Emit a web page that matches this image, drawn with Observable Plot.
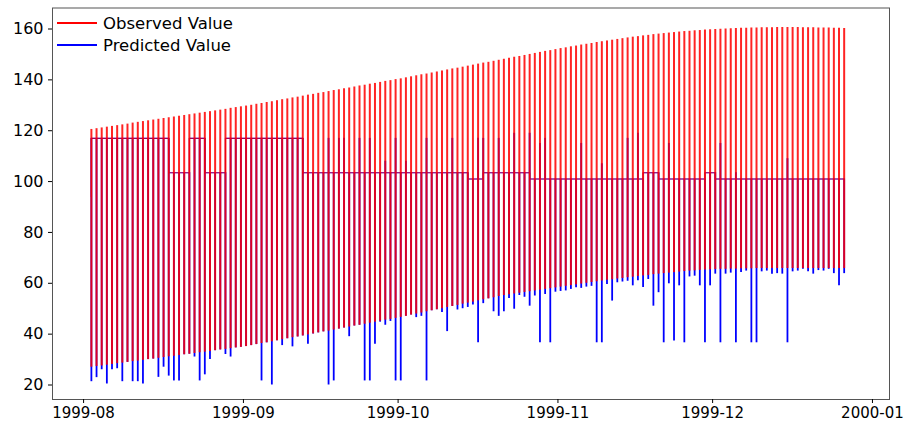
<!DOCTYPE html>
<html><head><meta charset="utf-8">
<script src="https://cdn.jsdelivr.net/npm/d3@7"></script>
<script src="https://cdn.jsdelivr.net/npm/@observablehq/plot@0.6"></script>
<style>
body{margin:0;background:#fff;}
#wrap{position:relative;width:904px;height:426px;font-family:"DejaVu Sans",sans-serif;}
.leg{position:absolute;left:57px;height:22px;display:flex;align-items:center;font-size:16.5px;color:#000;white-space:nowrap;}
.leg .sw{display:inline-block;width:40px;height:2px;margin-right:6px;}
</style></head><body>
<div id="wrap"></div>
<script>
// daily series, one spike per day
const startDay = "1999-08-02T03:00:00Z";
const dayCount = 147;

const observedHigh = [
120.5,120.8,121.1,121.4,121.7,122.0,122.3,122.6,123.0,123.3,123.6,123.9,124.2,124.5,124.8,125.1,125.4,125.7,126.0,126.3,126.6,126.9,127.2,127.5,127.8,128.1,128.4,128.8,129.1,129.4,129.7,
130.0,130.4,130.7,131.1,131.4,131.8,132.2,132.5,132.9,133.2,133.6,134.0,134.3,134.7,135.0,135.4,135.8,136.1,136.5,136.8,137.2,137.6,137.9,138.3,138.6,139.0,139.4,139.7,140.1,140.4,
140.8,141.2,141.6,142.0,142.3,142.7,143.1,143.5,143.9,144.3,144.6,145.0,145.4,145.8,146.2,146.6,146.9,147.3,147.7,148.1,148.5,148.9,149.2,149.6,150.0,150.4,150.8,151.2,151.5,151.9,152.3,
152.6,153.0,153.3,153.7,154.0,154.3,154.7,155.0,155.3,155.6,155.9,156.2,156.5,156.8,157.0,157.3,157.5,157.8,158.0,158.2,158.4,158.6,158.8,159.0,159.1,159.3,159.4,159.6,159.7,159.8,
159.9,160.0,160.1,160.2,160.3,160.3,160.4,160.4,160.5,160.5,160.5,160.6,160.6,160.6,160.6,160.6,160.5,160.5,160.5,160.4,160.4,160.4,160.3,160.3,160.2
];

const observedLow = [
27.0,27.3,27.5,27.8,28.1,28.4,28.6,28.9,29.2,29.4,29.7,30.0,30.2,30.5,30.8,31.1,31.3,31.6,31.9,32.1,32.4,32.7,32.9,33.2,33.5,33.8,34.0,34.3,34.6,34.8,35.1,
35.5,35.9,36.3,36.6,37.0,37.4,37.8,38.2,38.6,38.9,39.3,39.7,40.1,40.5,40.9,41.2,41.6,42.0,42.4,42.8,43.2,43.5,43.9,44.3,44.7,45.1,45.5,45.8,46.2,46.6,
47.0,47.5,47.9,48.3,48.8,49.2,49.6,50.0,50.5,50.9,51.3,51.8,52.2,52.6,53.1,53.5,53.9,54.3,54.8,55.2,55.5,55.8,56.1,56.4,56.7,57.0,57.3,57.6,57.9,58.2,58.5,
58.8,59.1,59.4,59.7,60.0,60.3,60.6,60.9,61.2,61.4,61.7,61.9,62.2,62.4,62.7,62.9,63.1,63.4,63.6,63.8,64.0,64.2,64.4,64.6,64.8,64.9,65.1,65.2,65.3,65.4,
65.5,65.5,65.6,65.6,65.7,65.7,65.7,65.8,65.8,65.8,65.8,65.8,65.8,65.8,65.8,65.8,65.8,65.8,65.8,65.8,65.8,65.8,65.8,65.8,65.8
];

const predictedBase = [
94,117,117,117,117,117,117,117,117,117,117,117,117,117,117,117,
103.5,103.5,103.5,103.5,117,117,117,103.5,103.5,103.5,103.5,
117,117,117,117,117,117,117,117,117,117,117,117,117,117,117,
103.5,103.5,103.5,103.5,103.5,103.5,103.5,103.5,103.5,103.5,103.5,103.5,103.5,103.5,103.5,103.5,
103.5,103.5,103.5,103.5,103.5,103.5,103.5,103.5,103.5,103.5,103.5,103.5,103.5,103.5,103.5,103.5,
101,101,101,
103.5,103.5,103.5,103.5,103.5,103.5,103.5,103.5,103.5,
101,101,101,101,101,101,101,101,101,101,101,101,101,101,101,101,101,101,101,101,101,101,
103.5,103.5,103.5,
101,101,101,101,101,101,101,101,101,
103.5,103.5,
101,101,101,101,101,101,101,101,101,101,101,101,101,101,101,101,101,101,101,101,101,101,101,101,101
];

const predictedHigh = [
117,117,117,117,117,117,117,117,117,117,117,117,117,117,117,117,
103.5,103.5,103.5,103.5,117,117,117,103.5,103.5,103.5,103.5,
117,117,117,117,117,117,117,117,117,117,117,117,117,117,117,
103.5,103.5,103.5,103.5,117,103.5,117,117,103.5,103.5,117,103.5,117,103.5,103.5,108,
103.5,117,103.5,108,103.5,103.5,103.5,117,103.5,103.5,103.5,103.5,117,103.5,103.5,103.5,
101,117,117,
103.5,103.5,117,103.5,103.5,119,103.5,103.5,119,
101,115,117,101,101,101,101,101,101,115,101,101,101,107,101,101,101,101,117,101,119,101,
103.5,103.5,103.5,
101,115,101,101,101,101,101,101,101,
103.5,103.5,
115,101,101,103.5,101,101,101,101,101,101,101,101,101,109,101,101,101,101,101,101,101,101,101,101,101
];

const predictedLow = [
21.3,22.9,26.0,20.4,26.0,26.4,21.3,28.9,21.3,21.3,20.4,30.0,30.2,23.0,27.0,23.5,21.6,21.6,31.9,32.1,31.0,21.6,24.0,30.0,33.5,33.8,32.0,31.0,34.6,34.8,35.1,
35.5,35.9,21.6,36.6,20.0,37.4,35.5,38.2,35.0,38.9,39.3,36.0,40.1,40.5,40.9,20.0,21.6,42.0,42.4,39.0,43.2,43.5,21.6,21.6,36.0,44.7,43.5,45.0,21.6,21.6,
47.0,47.5,46.5,47.0,21.6,49.2,49.6,48.5,41.0,50.9,49.5,50.0,50.5,51.5,36.6,52.0,53.9,48.8,47.0,48.8,54.0,49.8,55.2,54.5,51.0,55.0,36.6,55.6,36.6,56.5,56.8,
57.0,57.6,58.2,58.0,58.5,58.8,36.6,36.6,59.5,53.0,60.2,60.5,60.8,59.0,61.0,58.3,61.5,51.0,56.3,36.6,59.8,37.3,59.0,36.6,62.5,62.8,59.0,36.6,59.0,63.6,
36.6,63.6,64.0,36.6,64.2,64.8,36.6,36.6,64.5,64.8,63.6,63.8,63.6,36.6,64.5,64.8,65.5,64.5,63.6,65.0,64.8,65.5,63.8,59.0,63.8
];

// the observed series rests on the same plateau as the prediction between spikes
const observedBase = predictedBase.slice();

const yTicks = [20, 40, 60, 80, 100, 120, 140, 160];
const xTickLabels = ["1999-08", "1999-09", "1999-10", "1999-11", "1999-12", "2000-01"];

const start = new Date(startDay);
const dates = d3.range(dayCount).map(i => d3.utcDay.offset(start, i));

function spikeRows(high, low) {
  return dates.map((t, i) => ({t, lo: Math.min(low[i], high[i]), hi: Math.max(low[i], high[i])}));
}
function baseRows(base) {
  return dates.map((t, i) => ({t, v: base[i]}));
}

const parseMonth = d3.utcParse("%Y-%m");
const xTicks = xTickLabels.map(parseMonth);

const chart = Plot.plot({
  width: 904,
  height: 426,
  marginLeft: 52,
  marginRight: 15,
  marginTop: 7.5,
  marginBottom: 27,
  style: {fontFamily: "DejaVu Sans, sans-serif", fontSize: "16px", color: "#000", background: "#fff"},
  x: {type: "utc", domain: [new Date("1999-07-25T14:00:00Z"), new Date("2000-01-03T22:00:00Z")]},
  y: {domain: [14.3, 168.26]},
  marks: [
    Plot.ruleX(spikeRows(predictedHigh, predictedLow), {x: "t", y1: "lo", y2: "hi", stroke: "#0000ff", strokeWidth: 1.8}),
    Plot.line(baseRows(predictedBase), {x: "t", y: "v", curve: "step-before", stroke: "#0000ff", strokeWidth: 1.1}),
    Plot.ruleX(spikeRows(observedHigh, observedLow), {x: "t", y1: "lo", y2: "hi", stroke: "#ff0000", strokeWidth: 2, strokeOpacity: 0.86}),
    Plot.line(baseRows(observedBase), {x: "t", y: "v", curve: "step-before", stroke: "#ff0000", strokeWidth: 1.1, strokeOpacity: 0.6}),
    Plot.frame({stroke: "#555", strokeWidth: 1}),
    Plot.axisY({ticks: yTicks, tickSize: 4, tickPadding: 5, label: null, fontSize: 16}),
    Plot.axisX({ticks: xTicks, tickFormat: d3.utcFormat("%Y-%m"), tickSize: 4, tickPadding: 4, label: null, fontSize: 15, dx: -2})
  ]
});
const wrap = document.getElementById("wrap");
wrap.appendChild(chart);

const legendItems = [["Observed Value", "#ff0000", 12], ["Predicted Value", "#0000ff", 34]];
legendItems.forEach(([name, color, top]) => {
  const d = document.createElement("div");
  d.className = "leg";
  d.style.top = top + "px";
  d.innerHTML = `<span class="sw" style="background:${color}"></span><span>${name}</span>`;
  wrap.appendChild(d);
});
</script>
</body></html>
